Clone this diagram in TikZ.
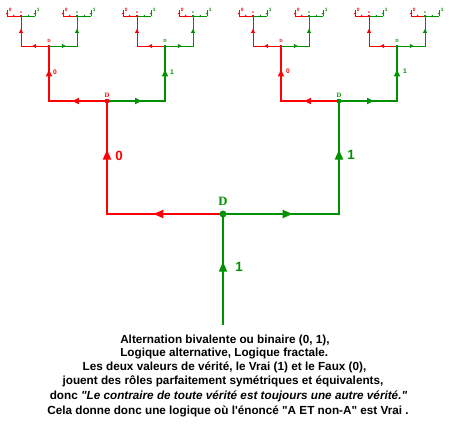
\documentclass[tikz,border=0pt]{standalone}
\usepackage{fontspec}
\setmainfont{Liberation Serif}
\setsansfont{Liberation Sans}[Ligatures=TeXOff]
\usetikzlibrary{calc,arrows.meta,decorations.markings}
\definecolor{br}{RGB}{255,0,0}
\definecolor{bg}{RGB}{0,145,0}
\tikzset{
  a0/.tip={Triangle[length=7.5pt,width=6pt]},
  a1/.tip={Triangle[length=5pt,width=4.5pt]},
  a2/.tip={Triangle[length=3pt,width=3pt]},
  a3/.tip={Triangle[length=1.2pt,width=2.2pt]},
  amark/.style 2 args={postaction={decorate},decoration={markings,mark=at position #1 with {\arrow{#2}}}},
  lv0/.style={line width=1.5pt},
  lv1/.style={line width=1.2pt},
  lv2/.style={line width=0.75pt},
  lv3/.style={line width=0.6pt},
  lab0/.style={font=\sffamily\bfseries\fontsize{10}{10}\selectfont,inner sep=0},
  lab1/.style={font=\sffamily\bfseries\fontsize{5}{5}\selectfont,inner sep=0},
  labt/.style={font=\sffamily\bfseries\fontsize{3.6}{3.6}\selectfont,inner sep=0},
  dlab0/.style={font=\rmfamily\bfseries\fontsize{9.5}{9.5}\selectfont,inner sep=0},
  dlab1/.style={font=\rmfamily\bfseries\fontsize{5}{5}\selectfont,inner sep=0},
  dlab2/.style={font=\rmfamily\bfseries\fontsize{3.5}{3.5}\selectfont,inner sep=0},
  dlab3/.style={font=\rmfamily\bfseries\fontsize{2.2}{2.2}\selectfont,inner sep=0},
  dotsq/.style={rectangle,inner sep=0,minimum size=#1},
  txt/.style={font=\sffamily\bfseries\fontsize{8.8}{10}\selectfont,inner sep=0},
}
% #1 node, #2 half width, #3 height, #4 level style, #5 tip
\newcommand\fork[5]{%
  \coordinate (#1Lc) at ($(#1)+(-#2,0)$);
  \coordinate (#1Rc) at ($(#1)+(#2,0)$);
  \coordinate (#1L) at ($(#1)+(-#2,-#3)$);
  \coordinate (#1R) at ($(#1)+(#2,-#3)$);
  \draw[br,line cap=rect,#4,amark={0.6}{#5}] (#1) -- (#1Lc);
  \draw[br,line cap=rect,#4,amark={0.57}{#5}] (#1Lc) -- (#1L);
  \draw[bg,line cap=rect,#4,amark={0.6}{#5}] (#1) -- (#1Rc);
  \draw[bg,line cap=rect,#4,amark={0.57}{#5}] (#1Rc) -- (#1R);
}
% labels at the tops of a last fork
\newcommand\tops[1]{%
  \node[labt,text=br,anchor=west] (#1L-t) at ($(#1L)+(1.5,0)$) {0};
  \node[labt,text=bg,anchor=west] (#1R-t) at ($(#1R)+(1.5,0)$) {1};
}
% dot of a node
\newcommand\knot[3]{% #1 node, #2 colour, #3 dot size
  \node[dotsq=#3,fill=#2] (#1-dot) at (#1) {};
}
\begin{document}
\begin{tikzpicture}[x=0.75pt,y=-0.75pt]
\useasboundingbox[fill=white] (0,0) rectangle (450,426);
% root
\coordinate (n) at (223,214);
\coordinate (base) at (223,325);
\draw[bg,lv0,amark={0.57}{a0}] (base) -- (n);
\fork{n}{116}{113}{lv0}{a0}
% level 1
\fork{nL}{58}{55}{lv1}{a1}
\fork{nR}{58}{55}{lv1}{a1}
% level 2
\fork{nLL}{28}{30}{lv2}{a2}
\fork{nLR}{28}{30}{lv2}{a2}
\fork{nRL}{28}{30}{lv2}{a2}
\fork{nRR}{28}{30}{lv2}{a2}
% level 3
\fork{nLLL}{14}{6}{lv3}{a3}
\fork{nLLR}{14}{6}{lv3}{a3}
\fork{nLRL}{14}{6}{lv3}{a3}
\fork{nLRR}{14}{6}{lv3}{a3}
\fork{nRLL}{14}{6}{lv3}{a3}
\fork{nRLR}{14}{6}{lv3}{a3}
\fork{nRRL}{14}{6}{lv3}{a3}
\fork{nRRR}{14}{6}{lv3}{a3}
\tops{nLLL}\tops{nLLR}\tops{nLRL}\tops{nLRR}
\tops{nRLL}\tops{nRLR}\tops{nRRL}\tops{nRRR}
% dots
\node[circle,fill=bg,inner sep=0,minimum size=5.2pt] (n-dot) at (n) {};
\knot{nL}{br}{3pt} \knot{nR}{bg}{3pt}
\knot{nLL}{br}{2.2pt} \knot{nLR}{bg}{2.2pt}
\knot{nRL}{br}{2.2pt} \knot{nRR}{bg}{2.2pt}
\foreach \a/\c in {nLLL/br,nLLR/bg,nLRL/br,nLRR/bg,nRLL/br,nRLR/bg,nRRL/br,nRRR/bg}
  {\node[dotsq=1.6pt,fill=\c] (\a-dot) at (\a) {};}
% D labels
\node[dlab0,text=bg] (n-D) at ($(n)+(0,-13)$) {D};
\node[dlab1,text=br] (nL-D) at ($(nL)+(0,-6)$) {D};
\node[dlab1,text=bg] (nR-D) at ($(nR)+(0,-6)$) {D};
\foreach \a/\c in {nLL/br,nLR/bg,nRL/br,nRR/bg}
  {\node[dlab2,text=\c] (\a-D) at ($(\a)+(0,-5)$) {D};}
\foreach \a/\c in {nLLL/br,nLLR/bg,nLRL/br,nLRR/bg,nRLL/br,nRLR/bg,nRRL/br,nRRR/bg}
  {\node[dlab3,text=\c] (\a-D) at ($(\a)+(0,-3.5)$) {D};}
% value labels
\node[lab0,text=bg] (stem-1) at (239,267) {1};
\node[lab0,text=br] (nL-0) at (119,156) {0};
\node[lab0,text=bg] (nR-1) at (351,155) {1};
\node[lab1,text=br] (nLL-0) at (55,72) {0};
\node[lab1,text=bg] (nLR-1) at (172,72) {1};
\node[lab1,text=br] (nRL-0) at (288,71) {0};
\node[lab1,text=bg] (nRR-1) at (405,71) {1};
% text
\node[txt,anchor=base west] (t1) at (120,343) {Alternation bivalente ou binaire (0, 1),};
\node[txt,anchor=base west] (t2) at (120,356) {Logique alternative, Logique fractale.};
\node[txt,anchor=base] (t3) at (224.5,370) {Les deux valeurs de vérité, le Vrai (1) et le Faux (0),};
\node[txt,anchor=base] (t4) at (223,384.5) {jouent des rôles parfaitement symétriques et équivalents,};
\node[txt,anchor=base] (t5) at (228.5,399) {donc \textit{"Le contraire de toute vérité est toujours une autre vérité."}};
\node[txt,anchor=base] (t6) at (228,414) {Cela donne donc une logique où l'énoncé "A ET non-A" est Vrai .};
\end{tikzpicture}
\end{document}
